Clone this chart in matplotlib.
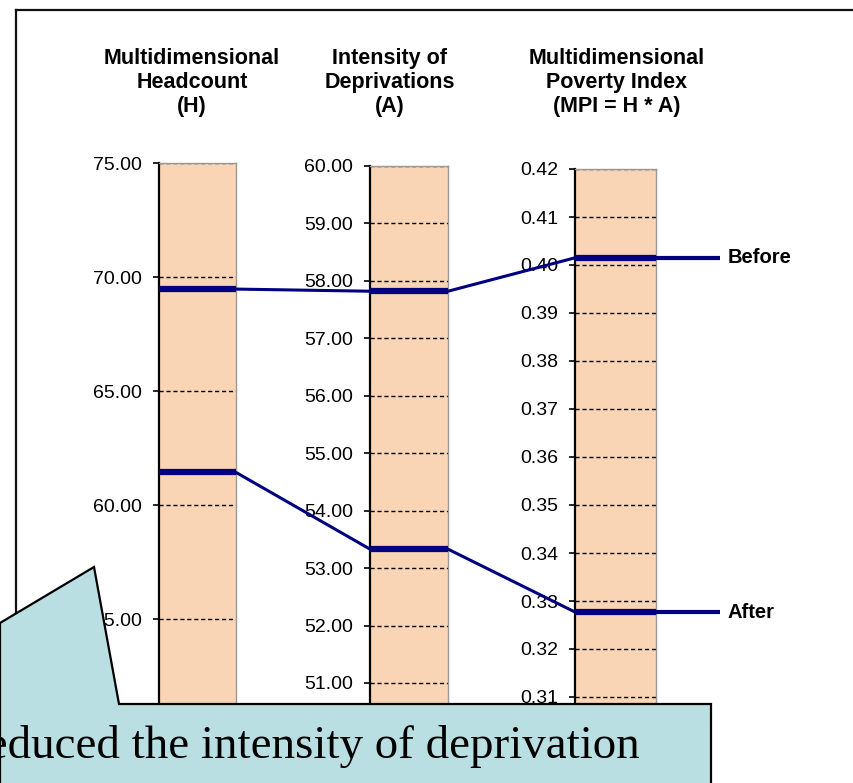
import matplotlib
matplotlib.use('Agg')
from matplotlib import pyplot as plt
from matplotlib.patches import ConnectionPatch, Polygon
from matplotlib.lines import Line2D
from matplotlib.ticker import FormatStrFormatter, MultipleLocator

plt.rcParams['font.family'] = ['Liberation Sans', 'DejaVu Sans']

# panel titles and values before/after
titles = ['Multidimensional\nHeadcount\n(H)',
          'Intensity of\nDeprivations\n(A)',
          'Multidimensional\nPoverty Index\n(MPI = H * A)']
before = [69.47, 57.82, 0.4015]
after = [61.43, 53.33, 0.3277]
y_min = [51, 50.5, 0.305]
y_max = [75, 60, 0.42]
y_step = [5, 1, 0.01]
series_names = ['Before', 'After']

W, H = 854, 783
fig = plt.figure(figsize=(W / 100, H / 100), dpi=100)


def fx(px):
    return px / W


def fy(py):
    return 1 - py / H


# axes boxes in pixels: left, right, top, bottom
boxes = [(159, 236, 163, 710.2), (370, 448, 166, 711.7), (575, 656, 169, 721)]
title_x = [192, 390, 617]

navy = '#000080'
peach = '#FAD5B5'

axes = []
for i, (l, r, t, b) in enumerate(boxes):
    ax = fig.add_axes([fx(l), fy(b), fx(r - l), (b - t) / H])
    ax.set_facecolor(peach)
    ax.set_xlim(0, 1)
    ax.set_ylim(y_min[i], y_max[i])
    ax.yaxis.set_major_locator(MultipleLocator(y_step[i]))
    ax.yaxis.set_major_formatter(FormatStrFormatter('%.2f'))
    ax.set_xticks([])
    ax.tick_params(axis='y', labelsize=14, length=4, width=1.2, pad=8)
    ax.grid(axis='y', color='black', linestyle=(0, (3, 2)), linewidth=1)
    ax.set_axisbelow(True)
    for s in ['top', 'right']:
        ax.spines[s].set_color('#999999')
        ax.spines[s].set_linewidth(1)
    ax.spines['bottom'].set_visible(False)
    ax.spines['left'].set_linewidth(1.6)
    # thick markers across each column
    ax.plot([0, 1], [before[i], before[i]], color=navy, lw=4.5,
            solid_capstyle='butt', zorder=5)
    ax.plot([0, 1], [after[i], after[i]], color=navy, lw=4.5,
            solid_capstyle='butt', zorder=5)
    fig.text(fx(title_x[i]), fy(48), titles[i], ha='center', va='top',
             fontsize=15.5, fontweight='bold', linespacing=1.2)
    axes.append(ax)

# connecting lines between columns
for vals in (before, after):
    for i in range(2):
        con = ConnectionPatch(xyA=(1, vals[i]), coordsA=axes[i].transData,
                              xyB=(0, vals[i + 1]), coordsB=axes[i + 1].transData,
                              color=navy, lw=2.2, zorder=2)
        fig.add_artist(con)

# tails and labels on the right
ax3 = axes[2]
for name, v in zip(series_names, (before[2], after[2])):
    ax3.plot([1, 1.79], [v, v], color=navy, lw=3, clip_on=False,
             solid_capstyle='butt', zorder=5)
    ax3.text(1.88, v, name, ha='left', va='center', fontsize=14.5,
             fontweight='bold', clip_on=False)

# slide frame
fig.add_artist(Line2D([fx(16), fx(16)], [fy(10), 0], color='#111111', lw=1.6,
                      transform=fig.transFigure, zorder=3))
fig.add_artist(Line2D([fx(16), 1], [fy(10), fy(10)], color='#111111', lw=1.6,
                      transform=fig.transFigure, zorder=3))

# callout box
pts = [(0, 623), (94, 567), (119, 704), (711, 704), (711, 790), (0, 790)]
callout = Polygon([(fx(x), fy(y)) for x, y in pts], closed=True,
                  facecolor='#BADFE3', edgecolor='black', lw=1.6,
                  transform=fig.transFigure, zorder=8)
fig.add_artist(callout)
fig.text(fx(640), fy(758), 'reduced the intensity of deprivation',
         ha='right', va='baseline', fontsize=33.8, family='Liberation Serif',
         zorder=9)

fig.savefig('out.png', dpi=100)
